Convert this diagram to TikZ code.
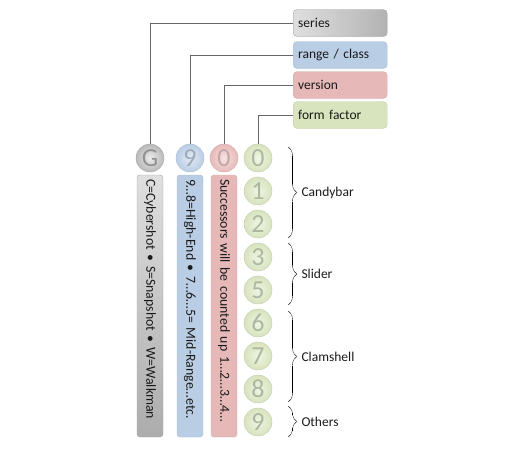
\documentclass[tikz,border=0pt]{standalone}
\usepackage{fontspec}
\setmainfont{Carlito}
\usepackage{xcolor}
\usepackage{tikz}
\usetikzlibrary{positioning}
\usetikzlibrary{shapes,arrows}
\usetikzlibrary{decorations.pathreplacing, calligraphy}

\definecolor{seriesgray}{HTML}{A6A6A6}
\definecolor{rangeblue}{HTML}{B9CDE5}
\definecolor{versionred}{HTML}{E6B9B8}
\definecolor{formgreen}{HTML}{D7E4BD}
\definecolor{textdark}{HTML}{1A1A1A}

\tikzstyle{labelbox} = [rounded corners=4pt, minimum width=94pt, minimum height=27pt, anchor=west,
  text width=84pt, align=left, text=textdark, font=\fontsize{13.5}{15}\selectfont]
\tikzstyle{digit} = [circle, minimum size=28pt, inner sep=0pt, font=\fontsize{26}{26}\selectfont]
\tikzstyle{bar} = [rounded corners=3pt, rotate=-90, minimum width=262pt, minimum height=26pt,
  text width=254pt, align=left, inner sep=2pt, text=textdark, font=\fontsize{13.8}{15}\selectfont]
\tikzstyle{connector} = [draw, gray!80!black, thin]
\tikzstyle{group} = [draw, gray!80, thin, decorate, decoration={calligraphic brace, amplitude=9pt}]

\begin{document}
\begin{tikzpicture}[x=1pt, y=-1pt]
\useasboundingbox (0, 0) rectangle (525, 450);

%% label boxes
\node[labelbox, draw=gray!80, left color=gray!25, right color=gray!60] (series) at (293, 23) {series};
\node[labelbox, draw=rangeblue!80!gray, fill=rangeblue] (range) at (293, 55) {range / class};
\node[labelbox, draw=versionred!80!gray, fill=versionred] (version) at (293, 85) {version};
\node[labelbox, draw=formgreen!80!gray, fill=formgreen] (form) at (293, 115) {form factor};

%% first row of digits
\node[digit, draw=gray!70, inner color=gray!15, outer color=gray!55, text=gray!85] (G) at (150, 158) {G};
\node[digit, draw=rangeblue!80!gray, inner color=rangeblue!40, outer color=rangeblue, text=rangeblue!55!gray] (nine) at (190, 158) {9};
\node[digit, draw=versionred!80!gray, inner color=versionred!40, outer color=versionred, text=versionred!65!gray] (zero) at (224, 158) {0};

%% form factor digits
\foreach \d/\y in {0/158, 1/191, 2/224, 3/257, 5/290, 6/323, 7/356, 8/389, 9/422}
  \node[digit, draw=formgreen!75!gray, inner color=formgreen!40, outer color=formgreen, text=formgreen!55!gray] (f\d) at (258, \y) {\d};

%% connectors
\draw[connector] (series.west) -| (G.north);
\draw[connector] (range.west) -| (nine.north);
\draw[connector] (version.west) -| (zero.north);
\draw[connector] (form.west) -| (f0.north);

%% bars
\node[bar, draw=gray!70, top color=gray!25, bottom color=gray!65] (seriesbar) at (150, 306) {C=Cybershot \textbullet{} S=Snapshot \textbullet{} W=Walkman};
\node[bar, draw=rangeblue!80!gray, fill=rangeblue] (rangebar) at (190, 306) {9\ldots8=High-End \textbullet{} 7\ldots6\ldots5= Mid-Range\ldots etc.};
\node[bar, draw=versionred!80!gray, fill=versionred] (versionbar) at (224, 306) {Successors will be counted up 1\ldots2\ldots3\ldots4\ldots};

%% form factor groups
\draw[group] (288, 147) -- (288, 238) node[midway, right=10pt, text=textdark, font=\fontsize{13.5}{15}\selectfont] (candybar) {Candybar};
\draw[group] (288, 243) -- (288, 305) node[midway, right=10pt, text=textdark, font=\fontsize{13.5}{15}\selectfont] (slider) {Slider};
\draw[group] (288, 311) -- (288, 402) node[midway, right=10pt, text=textdark, font=\fontsize{13.5}{15}\selectfont] (clamshell) {Clamshell};
\draw[group] (288, 406) -- (288, 437) node[midway, right=10pt, text=textdark, font=\fontsize{13.5}{15}\selectfont] (others) {Others};
\end{tikzpicture}
\end{document}
